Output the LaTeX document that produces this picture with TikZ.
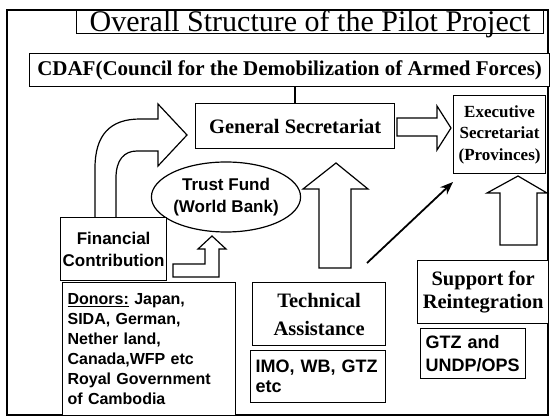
\documentclass[tikz,border=0pt]{standalone}
\usepackage{fontspec}
\setmainfont{Liberation Serif}
\setsansfont{Liberation Sans}
\usepackage{tikz}
\usetikzlibrary{shapes.geometric,arrows.meta}

\begin{document}
\begin{tikzpicture}[
            x = 1pt, y = -1pt, % work in points, y running down the page
            > = {Stealth[length=13pt,width=10pt]}, % arrow head style
            box/.style = {draw=black, line width=1.2pt, fill=white, inner sep=2pt,
                          align=center, anchor=north west},
            hollow/.style = {draw=black, line width=1.2pt, fill=white, line join=miter},
            serif/.style 2 args = {font=\bfseries\fontsize{#1}{#2}\selectfont},
            sans/.style 2 args = {font=\sffamily\bfseries\fontsize{#1}{#2}\selectfont}
        ]
\useasboundingbox (0,0) rectangle (550,417);

% outer frame
\draw[line width=1.2pt] (7,10) rectangle (548,415);

% big hollow arrows
\draw[hollow] (95,217) -- (95,168) .. controls (95,135) and (110,119) .. (140,119)
    -- (158,119) -- (158,104) -- (187,135) -- (158,166) -- (158,151) -- (137,151)
    .. controls (124,151) and (116,160) .. (116,178) -- (116,217);
\draw[hollow] (173,264) -- (205,264) -- (205,249) -- (198,249) -- (212,236)
    -- (226,249) -- (219,249) -- (219,277) -- (173,277) -- cycle;
\draw[hollow] (397,118) -- (437,118) -- (437,106) -- (451,128) -- (437,150)
    -- (437,136) -- (397,136) -- cycle;
\draw[hollow] (319,268) -- (319,189) -- (303,189) -- (336,163) -- (368,189)
    -- (351,189) -- (351,268) -- cycle;
\draw[hollow] (500,245) -- (500,193) -- (487,193) -- (518,176) -- (547,193)
    -- (537,193) -- (537,245) -- cycle;

% boxes
\node[box, minimum width=467, minimum height=23, inner sep=0pt, text height=21, text depth=2,
      font=\fontsize{30}{30}\selectfont] (title) at (76,10) {Overall Structure of the Pilot Project};
\node[box, serif={21}{25}, minimum width=520, minimum height=33] (cdaf) at (29,53)
    {CDAF(Council for the Demobilization of Armed Forces)};
\node[box, serif={20.5}{24}, minimum width=199, minimum height=45] (gs) at (195,103) {General Secretariat};
\node[box, serif={17}{21.5}, minimum width=92, minimum height=78, inner sep=1pt] (exec) at (453,95)
    {Executive\\Secretariat\\(Provinces)};
\node[shape=ellipse, draw=black, line width=1.2pt, fill=white, inner sep=0pt, align=center,
      sans={17}{22}, minimum width=138, minimum height=70] (trust) at (226,197)
    {Trust Fund\\(World Bank)};
\node[box, sans={17}{22}, minimum width=106, minimum height=63, inner sep=1pt] (fin) at (60,217)
    {Financial\\Contribution};
\node[box, sans={16}{20}, minimum width=173, minimum height=133, text width=163, align=left,
      inner sep=5pt] (donors) at (62,282)
    {\underline{Donors:} Japan,\\SIDA, German,\\Nether land,\\Canada,WFP etc\\Royal Government\\of Cambodia};
\node[box, serif={20.5}{28}, minimum width=133, minimum height=63] (tech) at (252,282)
    {Technical\\Assistance};
\node[box, sans={18}{20}, minimum width=135, minimum height=52, text width=125, align=left,
      inner sep=5pt] (imo) at (250,350) {IMO, WB, GTZ\\etc};
\node[box, serif={20.5}{23}, minimum width=131, minimum height=63] (support) at (417,260)
    {Support for\\Reintegration};
\node[box, sans={18}{23}, minimum width=105, minimum height=50, text width=95, align=left,
      inner sep=4pt] (gtz) at (420,328) {GTZ and\\UNDP/OPS};

% connectors
\draw[line width=1.4pt] (gs.north) -- (gs.north |- cdaf.south);
\coordinate (ta) at (367,263);
\coordinate (es) at (453,182);
\draw[->, line width=1.8pt] (ta) -- (es);
\end{tikzpicture}
\end{document}
